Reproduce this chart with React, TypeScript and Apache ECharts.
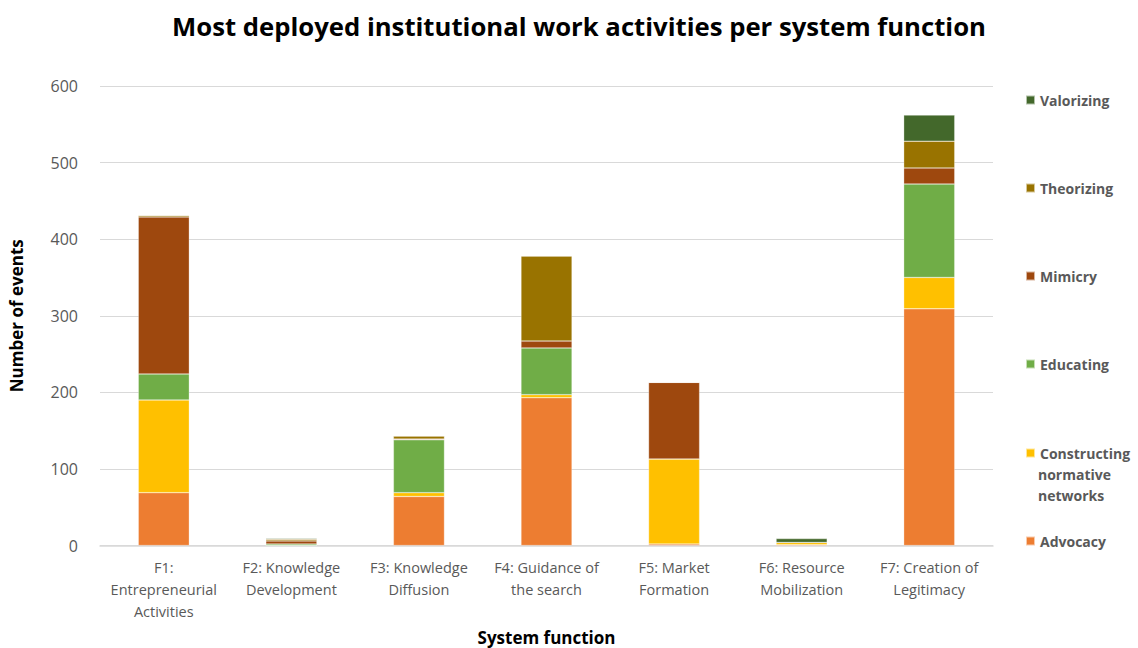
import React, { useEffect, useRef } from "react";
import * as echarts from "echarts";

const categories = [
  "F1:\nEntrepreneurial\nActivities",
  "F2: Knowledge\nDevelopment",
  "F3: Knowledge\nDiffusion",
  "F4: Guidance of\nthe search",
  "F5: Market\nFormation",
  "F6: Resource\nMobilization",
  "F7: Creation of\nLegitimacy",
];

const advocacy = [69, 0, 64, 193, 2, 1, 309];
const constructing = [121, 0, 5, 4, 111, 3, 41];
const educating = [34, 2, 69, 61, 0, 0, 122];
const mimicry = [205, 4, 1, 9, 100, 0, 21];
const theorizing = [2, 2, 4, 111, 0, 0, 35];
const valorizing = [0, 1, 0, 0, 0, 5, 34];

const seriesNames = ["Advocacy", "Constructing normative networks", "Educating", "Mimicry", "Theorizing", "Valorizing"];
const seriesData = [advocacy, constructing, educating, mimicry, theorizing, valorizing];
const colors = ["#ED7D31", "#FFC000", "#70AD47", "#9E480E", "#997300", "#43682B"];
const legendTops = [529, 441, 352, 264, 176, 88];

const FONT = "'Open Sans', sans-serif";

export default function App() {
  const ref = useRef<HTMLDivElement>(null);
  useEffect(() => {
    if (!ref.current) return;
    const chart = echarts.init(ref.current, undefined, { renderer: "svg" });
    const legendTextStyle = { color: "#595959", fontSize: 14, fontWeight: "bold" as const, fontFamily: FONT };
    chart.setOption({
      animation: false,
      title: {
        text: "Most deployed institutional work activities per system function",
        left: 574,
        textAlign: "center",
        top: 8,
        textStyle: { fontSize: 25.7, fontWeight: "bold", color: "#000", fontFamily: FONT },
      },
      legend: seriesNames.map((n, i) => ({
        data: [n],
        left: 1020,
        top: legendTops[i],
        itemWidth: 9,
        itemHeight: 9,
        icon: "rect",
        itemGap: 6,
        textStyle: legendTextStyle,
        formatter: (name: string) => (name === "Constructing normative networks" ? "Constructing" : name),
        selectedMode: false,
      })),
      graphic: [
        {
          type: "text",
          left: 1038,
          top: 464,
          style: {
            text: "normative\nnetworks",
            fill: "#595959",
            font: `bold 14px ${FONT}`,
            lineHeight: 21,
          },
        },
      ],
      grid: { left: 100, right: 145, top: 86, bottom: 102.5, outerBoundsMode: "none" },
      xAxis: {
        type: "category",
        data: categories,
        name: "System function",
        nameLocation: "middle",
        nameGap: 83,
        nameTextStyle: { fontSize: 17, fontWeight: "bold", color: "#000", fontFamily: FONT },
        axisTick: { show: false },
        axisLine: { lineStyle: { color: "#d9d9d9", width: 1.5 } },
        axisLabel: { color: "#595959", fontSize: 14.5, lineHeight: 22, margin: 11, fontFamily: FONT, interval: 0 },
      },
      yAxis: {
        type: "value",
        min: 0,
        max: 600,
        interval: 100,
        name: "Number of events",
        nameLocation: "middle",
        nameGap: 75,
        nameTextStyle: { fontSize: 17, fontWeight: "bold", color: "#000", fontFamily: FONT },
        axisLabel: { color: "#595959", fontSize: 16, margin: 22, fontFamily: FONT },
        splitLine: { lineStyle: { color: "#d9d9d9", width: 1.2 } },
      },
      series: seriesNames.map((n, i) => ({
        name: n,
        type: "bar",
        stack: "total",
        data: seriesData[i],
        barWidth: "40%",
        itemStyle: { color: colors[i], borderColor: "rgba(255,255,255,0.6)", borderWidth: 0.5 },
      })),
    });
    return () => chart.dispose();
  }, []);
  return <div ref={ref} style={{ width: 1138, height: 648, position: "absolute", left: 0, top: 0 }} />;
}
